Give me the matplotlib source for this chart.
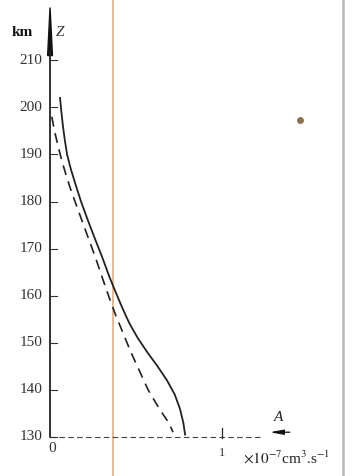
import matplotlib
matplotlib.use('Agg')
import matplotlib.pyplot as plt

plt.rcParams['font.family'] = ['Liberation Serif', 'DejaVu Serif']
plt.rcParams['mathtext.fontset'] = 'stix'

# solid curve: altitude (km) vs A (x10^-7 cm^3 s^-1)
z_solid = [202, 199, 196, 193, 190, 187, 184, 180, 176, 172, 168, 164, 160, 157, 154,
           151, 148, 145, 142, 139, 136, 133, 130.5]
a_solid = [0.058, 0.066, 0.075, 0.086, 0.099, 0.12, 0.145, 0.18, 0.22, 0.262, 0.305, 0.345,
           0.39, 0.425, 0.463, 0.51, 0.565, 0.625, 0.68, 0.725, 0.755, 0.775, 0.785]

# dashed curve
z_dash = [198, 195, 192, 189, 186, 183, 180, 176, 172, 168, 164, 160, 156, 152, 148, 144,
          140, 136, 133, 131]
a_dash = [0.01, 0.026, 0.045, 0.066, 0.09, 0.116, 0.145, 0.185, 0.225, 0.265, 0.302, 0.34, 0.38,
          0.425, 0.47, 0.52, 0.57, 0.635, 0.69, 0.715]

z_ticks = [130, 140, 150, 160, 170, 180, 190, 200, 210]
z_labels = ['130', '140', '150', '160', '170', '180', '190', '200', '210']

fig = plt.figure(figsize=(3.6, 4.76), dpi=100)
ax = fig.add_axes([0, 0, 1, 1])
ax.set_xlim(-0.291, 1.802)
ax.set_ylim(121.7, 222.8)
ax.axis('off')

# scan artefacts: fold line, page edge, spot
ax.axvline(0.366, color='#d9a273', lw=1.3, alpha=0.8)
ax.axvline(1.703, color='#b8b8b8', lw=1.8)
ax.plot([1.453], [197.3], marker='o', ms=5, color='#8a7350', mec='none')

# axes
ax.plot([0, 0], [130, 212], color='#222222', lw=1.3)
ax.fill([-0.014, 0.0, 0.014], [211, 221.2, 211], color='#111111')
ax.plot([0, 1.23], [130, 130], color='#444444', lw=0.8, ls=(0, (5, 3)))
ax.plot([1.0, 1.0], [129.7, 132.0], color='#222222', lw=0.9)
ax.annotate('', xy=(1.262, 131.0), xytext=(1.41, 131.0),
            arrowprops=dict(arrowstyle='-|>,head_length=0.8,head_width=0.15', color='#111111', lw=0.9))

for z, lab in zip(z_ticks, z_labels):
    ax.plot([0, 0.04], [z, z], color='#333333', lw=0.8)
    ax.text(-0.045, z, lab, ha='right', va='center', fontsize=11, color='#333333')

ax.text(0.01, 127.5, '0', ha='center', va='center', fontsize=11, color='#333333')
ax.text(1.0, 126.5, '1', ha='center', va='center', fontsize=9, color='#333333')
ax.text(-0.16, 215.8, 'km', ha='center', va='center', fontsize=11, fontweight='bold', color='#111111')
ax.text(0.06, 215.8, 'Z', ha='center', va='center', fontsize=11, style='italic', color='#333333')
ax.text(1.33, 134.2, 'A', ha='center', va='center', fontsize=11, style='italic', color='#222222')
ax.text(1.12, 125.6, r'$\times10^{-7}$cm$^{3}$.s$^{-1}$', ha='left', va='center', fontsize=11, color='#222222')

# curves
ax.plot(a_solid, z_solid, color='#222222', lw=1.3)
ax.plot(a_dash, z_dash, color='#222222', lw=1.2, ls=(0, (6, 4)))

fig.savefig('out.png', dpi=100)
